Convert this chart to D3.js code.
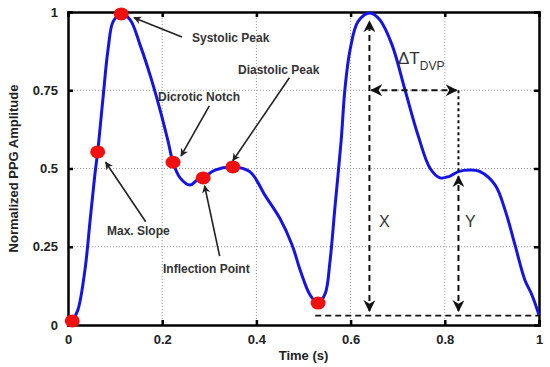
<!DOCTYPE html>
<html lang="en">
<head>
<meta charset="utf-8">
<title>PPG waveform</title>
<script src="https://d3js.org/d3.v7.min.js"></script>
<style>
  body { margin: 0; background: #fff; }
  text { font-family: "Liberation Sans", Arial, sans-serif; }
</style>
</head>
<body>
<div id="chart1"></div>
<script>
// waveform samples (time in s, normalized amplitude)
const times = [0.009, 0.021, 0.036, 0.047, 0.057, 0.063, 0.074, 0.085, 0.096, 0.113, 0.132, 0.153, 0.174, 0.195, 0.212, 0.223, 0.238, 0.259, 0.274, 0.287, 0.312, 0.35, 0.386, 0.418, 0.45, 0.476, 0.493, 0.514, 0.531, 0.546, 0.556, 0.567, 0.58, 0.588, 0.599, 0.616, 0.641, 0.662, 0.688, 0.715, 0.743, 0.769, 0.79, 0.81, 0.829, 0.853, 0.875, 0.907, 0.928, 0.949, 0.97, 0.985, 1.0];
const amps  = [0.013, 0.048, 0.176, 0.335, 0.48, 0.553, 0.72, 0.88, 0.97, 0.994, 0.975, 0.895, 0.8, 0.69, 0.59, 0.52, 0.47, 0.447, 0.463, 0.47, 0.495, 0.505, 0.49, 0.415, 0.34, 0.255, 0.175, 0.096, 0.07, 0.1, 0.2, 0.38, 0.59, 0.754, 0.88, 0.97, 0.997, 0.975, 0.895, 0.754, 0.607, 0.5, 0.47, 0.475, 0.49, 0.495, 0.49, 0.447, 0.367, 0.256, 0.144, 0.096, 0.032];

// red feature markers
const markT = [0.009, 0.063, 0.113, 0.223, 0.287, 0.35, 0.531];
const markA = [0.013, 0.553, 0.994, 0.52, 0.47, 0.505, 0.07];

const xTicks = [0, 0.2, 0.4, 0.6, 0.8, 1];
const yTicks = [0, 0.25, 0.5, 0.75, 1];

const margin = {top: 12, right: 11, bottom: 42, left: 68},
      width = 550 - margin.left - margin.right,
      height = 367 - margin.top - margin.bottom;

const svg = d3.select("#chart1").append("svg")
    .attr("width", 550).attr("height", 367);
const g = svg.append("g").attr("transform", `translate(${margin.left},${margin.top})`);

const x = d3.scaleLinear().domain([0, 1]).range([0, width]);
const y = d3.scaleLinear().domain([0, 1]).range([height, 0]);

// dotted grid
g.append("g").selectAll("line").data(xTicks.slice(1, -1)).join("line")
    .attr("x1", d => x(d)).attr("x2", d => x(d)).attr("y1", 0).attr("y2", height)
    .attr("stroke", "#999").attr("stroke-width", 1).attr("stroke-dasharray", "1,2");
g.append("g").selectAll("line").data(yTicks.slice(1, -1)).join("line")
    .attr("y1", d => y(d)).attr("y2", d => y(d)).attr("x1", 0).attr("x2", width)
    .attr("stroke", "#999").attr("stroke-width", 1).attr("stroke-dasharray", "1,2");

// axes (matlab-like box with inner ticks)
const fmt = d => d === 0 ? "0" : d3.format("")(d);
const axB = g.append("g").attr("transform", `translate(0,${height})`)
    .call(d3.axisBottom(x).tickValues(xTicks).tickSize(-5).tickPadding(10).tickFormat(fmt));
const axT = g.append("g")
    .call(d3.axisTop(x).tickValues(xTicks).tickSize(-5).tickFormat(""));
const axL = g.append("g")
    .call(d3.axisLeft(y).tickValues(yTicks).tickSize(-5).tickPadding(10).tickFormat(fmt));
const axR = g.append("g").attr("transform", `translate(${width},0)`)
    .call(d3.axisRight(y).tickValues(yTicks).tickSize(-5).tickFormat(""));
[axB, axT, axL, axR].forEach(a => {
    a.select(".domain").attr("stroke", "#000").attr("stroke-width", 2.5);
    a.selectAll(".tick line").attr("stroke", "#000").attr("stroke-width", 2.5);
    a.selectAll("text").attr("font-size", 13).attr("font-weight", "bold").attr("fill", "#222")
        .style("font-family", "'Liberation Sans', Arial, sans-serif");
});

// axis labels
svg.append("text").attr("x", margin.left + width / 2).attr("y", 360)
    .attr("text-anchor", "middle").attr("font-size", 13).attr("font-weight", "bold").attr("fill", "#222")
    .text("Time (s)");
svg.append("text").attr("transform", `translate(18,${margin.top + height / 2}) rotate(-90)`)
    .attr("text-anchor", "middle").attr("font-size", 13).attr("font-weight", "bold").attr("fill", "#222")
    .text("Normalized PPG Amplitude");

// markers for arrows
const defs = svg.append("defs");
defs.append("marker").attr("id", "arr").attr("viewBox", "0 0 10 10").attr("refX", 9).attr("refY", 5)
    .attr("markerWidth", 5).attr("markerHeight", 5).attr("orient", "auto-start-reverse")
    .attr("markerUnits", "strokeWidth")
    .append("path").attr("d", "M0,0 L10,5 L0,10 L3,5 z").attr("fill", "#222");
defs.append("marker").attr("id", "arrd").attr("viewBox", "0 0 10 10").attr("refX", 9).attr("refY", 5)
    .attr("markerWidth", 6).attr("markerHeight", 6).attr("orient", "auto-start-reverse")
    .attr("markerUnits", "strokeWidth")
    .append("path").attr("d", "M0,0 L10,5 L0,10 L3,5 z").attr("fill", "#111");

// waveform
const data = times.map((t, i) => ({t: t, a: amps[i]}));
g.append("path").datum(data)
    .attr("fill", "none").attr("stroke", "#1414e6").attr("stroke-width", 3)
    .attr("d", d3.line().x(d => x(d.t)).y(d => y(d.a)).curve(d3.curveCatmullRom.alpha(0.5)));

// red points
g.selectAll(".dot").data(markT).join("ellipse").attr("class", "dot")
    .attr("cx", d => x(d)).attr("cy", (d, i) => y(markA[i]))
    .attr("rx", 7.5).attr("ry", 6.5).attr("fill", "#f01010");

// labelled arrows: [text, textX, textY, fromT, fromA, toT, toA]
const notes = [
    ["Systolic Peak", 192, 42, 0.242, 0.92, 0.14, 0.982],
    ["Dicrotic Notch", 158, 101, 0.3, 0.70, 0.24, 0.54],
    ["Diastolic Peak", 238, 74, 0.47, 0.79, 0.35, 0.525],
    ["Max. Slope", 107, 235, 0.165, 0.33, 0.08, 0.52],
    ["Inflection Point", 163, 273, 0.322, 0.22, 0.29, 0.445]
];
notes.forEach(n => {
    svg.append("text").attr("x", n[1]).attr("y", n[2])
        .attr("font-size", 12).attr("font-weight", "bold").attr("fill", "#333").text(n[0]);
    g.append("line").attr("x1", x(n[3])).attr("y1", y(n[4])).attr("x2", x(n[5])).attr("y2", y(n[6]))
        .attr("stroke", "#222").attr("stroke-width", 1.6).attr("marker-end", "url(#arr)");
});

// dashed measurement lines
const peakT = 0.64, valT = 0.829, base = 0.03, dvpA = 0.75;
const dash = "6,4";
g.append("line").attr("x1", x(0.525)).attr("x2", x(1)).attr("y1", y(base)).attr("y2", y(base))
    .attr("stroke", "#111").attr("stroke-width", 1.6).attr("stroke-dasharray", dash);
g.append("line").attr("x1", x(peakT)).attr("x2", x(peakT)).attr("y1", y(0.045)).attr("y2", y(0.97))
    .attr("stroke", "#111").attr("stroke-width", 2).attr("stroke-dasharray", dash)
    .attr("marker-start", "url(#arrd)").attr("marker-end", "url(#arrd)");
g.append("line").attr("x1", x(valT)).attr("x2", x(valT)).attr("y1", y(dvpA)).attr("y2", y(0.49))
    .attr("stroke", "#111").attr("stroke-width", 2).attr("stroke-dasharray", "3,3");
g.append("line").attr("x1", x(valT)).attr("x2", x(valT)).attr("y1", y(0.045)).attr("y2", y(0.475))
    .attr("stroke", "#111").attr("stroke-width", 2).attr("stroke-dasharray", dash)
    .attr("marker-start", "url(#arrd)").attr("marker-end", "url(#arrd)");
g.append("line").attr("x1", x(peakT) + 2).attr("x2", x(valT) - 2).attr("y1", y(dvpA)).attr("y2", y(dvpA))
    .attr("stroke", "#111").attr("stroke-width", 2).attr("stroke-dasharray", dash)
    .attr("marker-start", "url(#arrd)").attr("marker-end", "url(#arrd)");

// measurement labels
svg.append("text").attr("x", 379).attr("y", 227).attr("font-size", 16).attr("fill", "#333").text("X");
svg.append("text").attr("x", 465).attr("y", 227).attr("font-size", 16).attr("fill", "#333").text("Y");
const dt = svg.append("text").attr("x", 398).attr("y", 64).attr("font-size", 17).attr("fill", "#333");
dt.append("tspan").text("\u0394T");
dt.append("tspan").attr("font-size", 12).attr("dy", 6).text("DVP");
</script>
</body>
</html>
